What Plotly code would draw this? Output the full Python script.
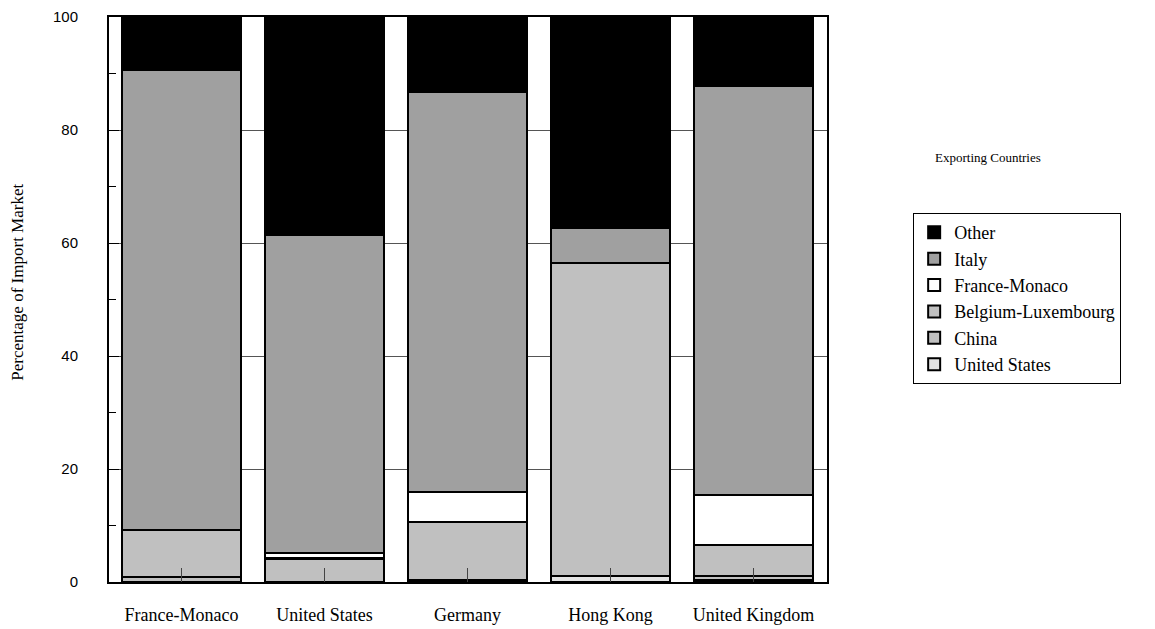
import plotly.graph_objects as go

importers = ["France-Monaco", "United States", "Germany", "Hong Kong", "United Kingdom"]

united_states = [None, None, None, 1.1, 0.3]
china = [0.8, 4.0, 0.35, 55.4, 0.75]
belgium_luxembourg = [8.4, 0.2, 10.2, None, 5.55]
france_monaco = [None, 1.0, 5.35, None, 8.8]
italy = [81.4, 56.2, 70.8, 6.1, 72.4]
other = [9.3, 38.6, 13.3, 37.35, 12.2]

series = [
    ("United States", united_states, "#e3e3e3"),
    ("China", china, "#c0c0c0"),
    ("Belgium-Luxembourg", belgium_luxembourg, "#c0c0c0"),
    ("France-Monaco", france_monaco, "#ffffff"),
    ("Italy", italy, "#a0a0a0"),
    ("Other", other, "#000000"),
]

serif = "Liberation Serif, Times New Roman, serif"
sans = "Liberation Sans, Arial, sans-serif"

fig = go.Figure()
for name, vals, col in series:
    fig.add_trace(go.Bar(
        x=list(range(len(importers))), y=vals, name=name,
        marker=dict(color=col, line=dict(color="black", width=2)),
        width=0.832,
    ))

# page body has an 8px margin; size the figure so it fills the window after that offset
fig.update_layout(
    barmode="stack",
    width=1147, height=621,
    margin=dict(l=101, r=328, t=9, b=47, autoexpand=False),
    plot_bgcolor="white", paper_bgcolor="white",
    showlegend=True,
    legend=dict(
        x=1.12, y=0.653, xanchor="left", yanchor="top",
        traceorder="reversed",
        bordercolor="black", borderwidth=1,
        font=dict(family=serif, size=18, color="black"),
        tracegroupgap=0, itemwidth=30,
    ),
    annotations=[
        dict(
            text="Exporting Countries", xref="paper", yref="paper",
            x=1.224, y=0.752, xanchor="center", yanchor="middle",
            showarrow=False, font=dict(family=serif, size=13, color="black"),
        ),
        dict(
            text="Percentage of Import Market", xref="paper", yref="paper",
            x=-0.128, y=0.53, xanchor="center", yanchor="middle", textangle=-90,
            showarrow=False, font=dict(family=serif, size=17, color="black"),
        ),
    ],
)

fig.update_xaxes(
    range=[-0.507, 4.514],
    tickmode="array", tickvals=list(range(len(importers))), ticktext=importers,
    ticks="inside", ticklen=14, tickwidth=1, tickcolor="#444",
    showline=True, linecolor="black", linewidth=2, mirror=True,
    showgrid=False, zeroline=False,
    layer="above traces", automargin=False,
    tickfont=dict(family=serif, size=18, color="black"),
    ticklabelstandoff=15,
)

fig.update_yaxes(
    range=[0, 100],
    tickmode="array", tickvals=[0, 20, 40, 60, 80, 100],
    ticks="inside", ticklen=10, tickwidth=1, tickcolor="black",
    minor=dict(tickvals=[10, 30, 50, 70, 90], ticks="inside", ticklen=7, tickcolor="black", showgrid=False),
    showline=True, linecolor="black", linewidth=2, mirror=True,
    showgrid=True, gridcolor="#555", gridwidth=1,
    zeroline=False, automargin=False,
    tickfont=dict(family=sans, size=15, color="black"),
    ticklabelstandoff=26,
)

fig.write_html("out.html")
